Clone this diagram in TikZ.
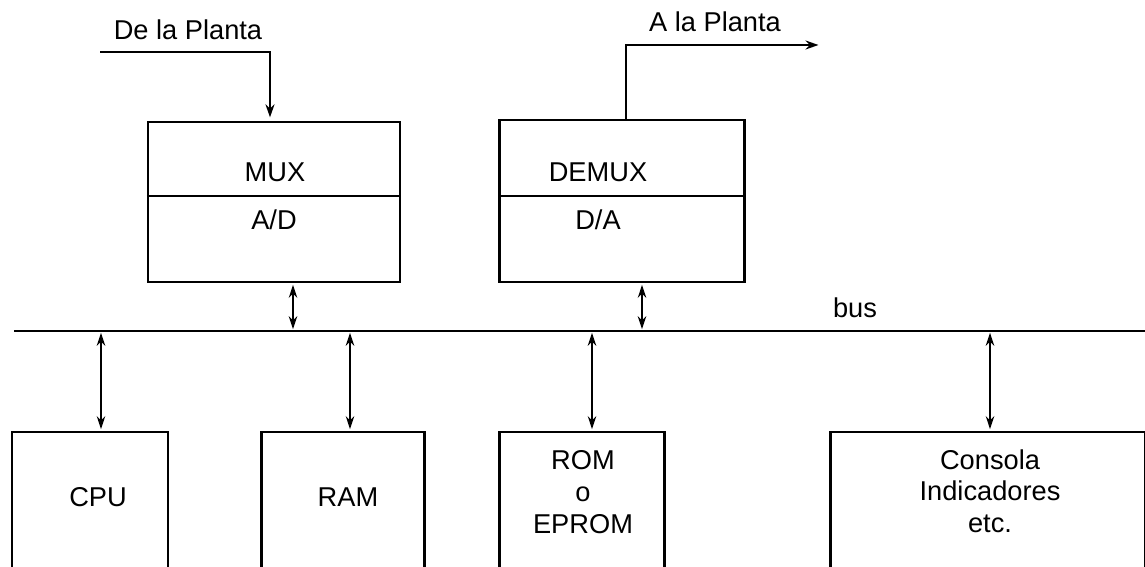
\documentclass[tikz,border=0pt]{standalone}
\usepackage{fontspec}
\setmainfont{Liberation Sans}
\usetikzlibrary{arrows.meta, positioning, calc}

\begin{document}
\begin{tikzpicture}[x=0.02cm, y=-0.02cm, font=\fontsize{15.5}{18}\selectfont,
	block/.style={draw, line width=1.3pt, inner sep=0pt},
	link/.style={line width=0.9pt, shorten <=1pt, shorten >=1pt,
		{Stealth[length=2.6mm,width=1.7mm]}-{Stealth[length=2.6mm,width=1.7mm]}},
	feed/.style={line width=1.2pt, shorten >=2pt, -{Stealth[length=2.6mm,width=1.8mm]}}]
	\useasboundingbox (0,0) rectangle (1145,567);
	\clip (0,0) rectangle (1145,567);
	% entrada y salida
	\begin{scope}
		\node[block, minimum width=5.04cm, minimum height=3.2cm] (mux) at (274,202) {};
		\node[block, minimum width=4.9cm, minimum height=3.24cm] (demux) at (622,201) {};
		\coordinate (mid) at (0,196);
		\draw[line width=1.3pt] (mux.west |- mid) -- (mux.east |- mid);
		\draw[line width=1.3pt] (demux.west |- mid) -- (demux.east |- mid);
		\node (muxlabel) at (275,172) {MUX};
		\node (adlabel) at (274,220) {A/D};
		\node (demuxlabel) at (598,172) {DEMUX};
		\node (dalabel) at (598,220) {D/A};
		\coordinate (inA) at (100,52);
		\coordinate (inB) at (270,52);
		\draw[feed] (inA) -- (inB) -- (inB |- mux.north);
		\node (inlabel) at (188,30) {De la Planta};
		\coordinate (outA) at (626,45);
		\coordinate (outB) at (822,45);
		\draw[feed] (outA |- demux.north) -- (outA) -- (outB);
		\node (outlabel) at (715,22) {A la Planta};
	\end{scope}
	% bus
	\coordinate (busL) at (14,331);
	\coordinate (busR) at (1145,331);
	\draw[line width=1.5pt] (busL) -- (busR);
	\node (buslabel) at (855,308) {bus};
	\coordinate (b1) at (293,331);
	\coordinate (b2) at (642,331);
	\coordinate (b3) at (101,331);
	\coordinate (b4) at (350,331);
	\coordinate (b5) at (592,331);
	\coordinate (b6) at (990,331);
	\draw[link] (b1 |- mux.south) -- (b1);
	\draw[link] (b2 |- demux.south) -- (b2);
	% perifericos
	\node[block, minimum width=3.12cm, minimum height=3.6cm] (cpu) at (90,522) {};
	\node[block, minimum width=3.26cm, minimum height=3.6cm] (ram) at (343,522) {};
	\node[block, minimum width=3.3cm, minimum height=3.6cm] (rom) at (582,522) {};
	\node[block, minimum width=6.3cm, minimum height=3.6cm] (consola) at (988,522) {};
	\node (cpulabel) at (98,497) {CPU};
	\node (ramlabel) at (348,497) {RAM};
	\node[align=center] (romlabel) at (583,492) {ROM\\o\\EPROM};
	\node[align=center] (consolalabel) at (990,491) {Consola\\Indicadores\\etc.};
	\draw[link] (b3) -- (b3 |- cpu.north);
	\draw[link] (b4) -- (b4 |- ram.north);
	\draw[link] (b5) -- (b5 |- rom.north);
	\draw[link] (b6) -- (b6 |- consola.north);
\end{tikzpicture}
\end{document}
